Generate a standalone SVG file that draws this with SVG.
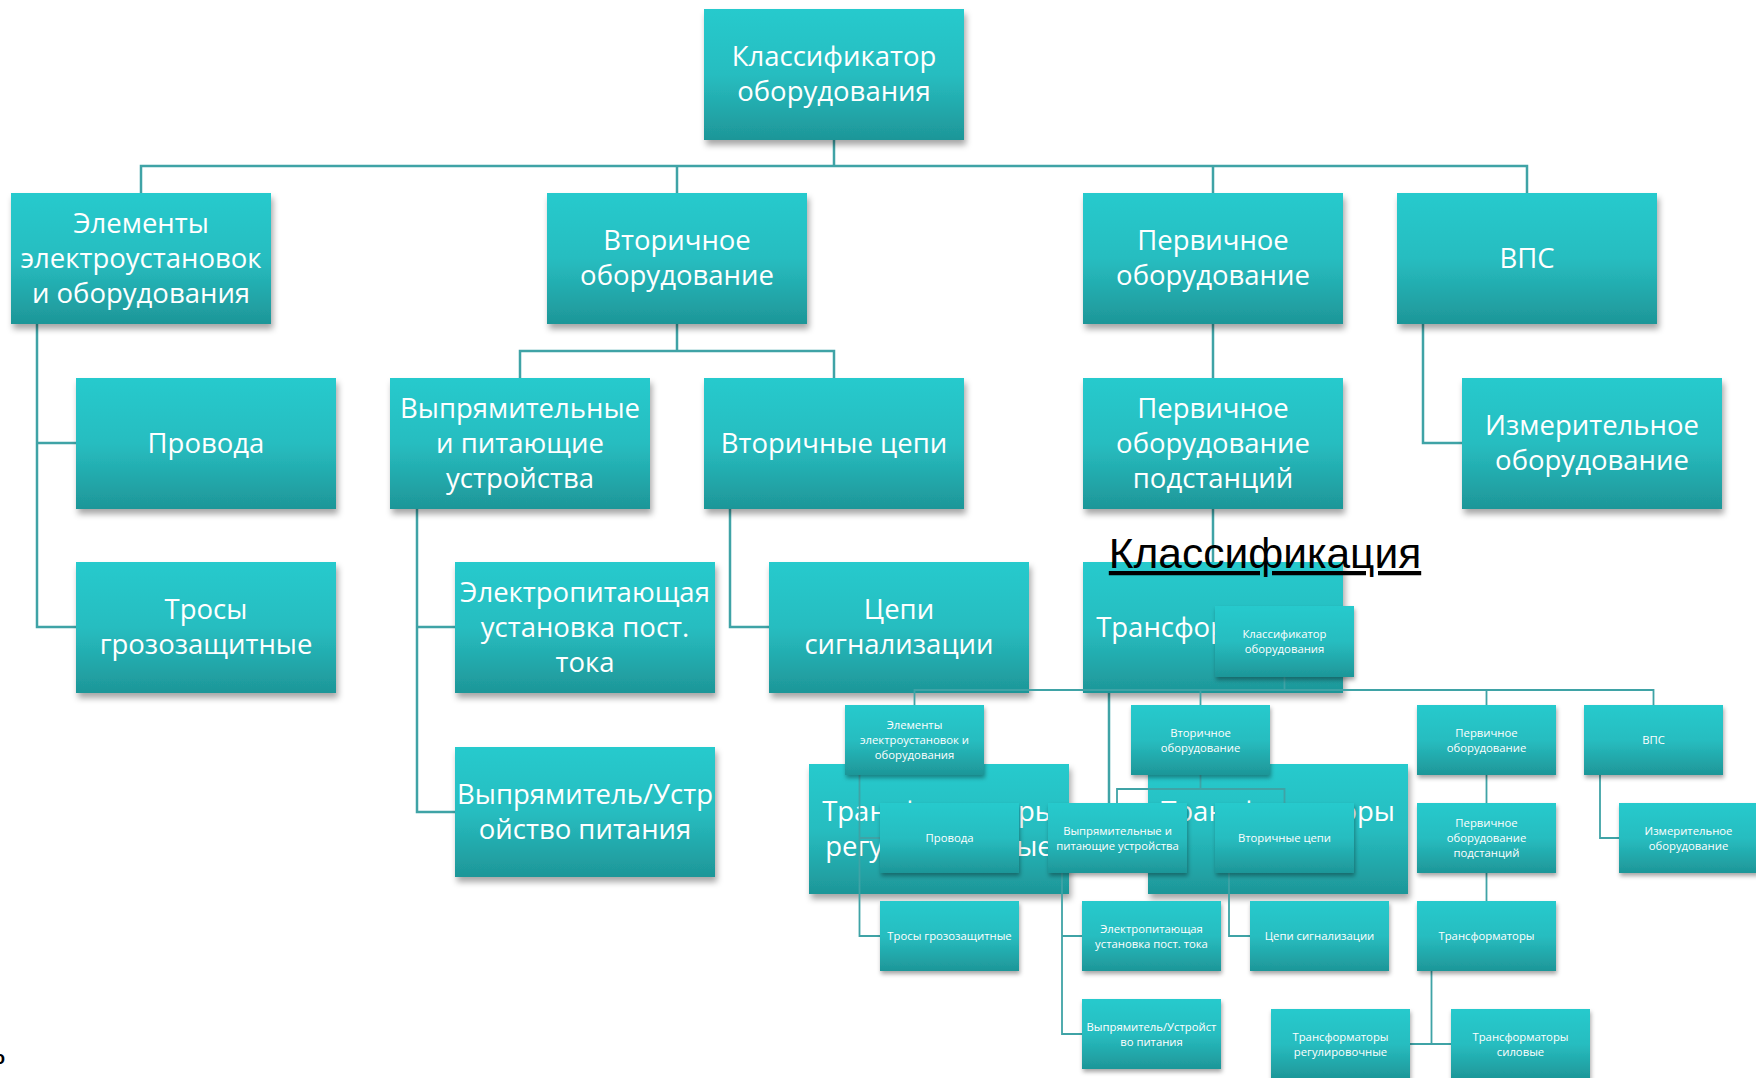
<svg xmlns="http://www.w3.org/2000/svg" width="1756" height="1078" viewBox="0 0 1756 1078">
<style>
.bx{fill:url(#g);filter:url(#sh)}
.sbx{fill:url(#g);filter:url(#ssh)}
.t{fill:#fff;font-family:"Open Sans","Noto Sans",sans-serif;font-size:27.5px;text-anchor:middle}
.s{fill:#fff;font-family:"Open Sans","Noto Sans",sans-serif;font-size:11.3px;text-anchor:middle}
.c{stroke:#3FA3A6;stroke-width:2.5;fill:none}
.cs{stroke:#3FA3A6;stroke-width:1.8;fill:none}
</style>
<defs>
<linearGradient id="g" x1="0" y1="0" x2="0" y2="1">
<stop offset="0" stop-color="#26CACD"/>
<stop offset="0.5" stop-color="#27BDC0"/>
<stop offset="1" stop-color="#1E9698"/>
</linearGradient>
<filter id="sh" x="-10%" y="-10%" width="125%" height="130%">
<feDropShadow dx="2" dy="5" stdDeviation="3" flood-color="#000" flood-opacity="0.35"/>
</filter>
<filter id="ssh" x="-10%" y="-10%" width="125%" height="130%">
<feDropShadow dx="1" dy="3" stdDeviation="2" flood-color="#000" flood-opacity="0.35"/>
</filter>
</defs>
<rect width="1756" height="1078" fill="#fff"/>

<g id="connectors-big">
<path class="c" d="M834 140V166M141 193V166H1527V193M677 166V193M1213 166V193"/>
<path class="c" d="M37 324V627H76M37 443H76"/>
<path class="c" d="M677 324V351M520 378V351H834V378"/>
<path class="c" d="M1213 324V378"/>
<path class="c" d="M1423 324V443H1462"/>
<path class="c" d="M417 509V812H455M417 627H455"/>
<path class="c" d="M730 509V627H769"/>
<path class="c" d="M1213 509V562"/>
<path class="c" d="M1109 693V829M1069 829H1148"/>
</g>

<g id="n-top"><rect class="bx" x="704" y="9" width="260" height="131"/><text class="t" x="834" y="65.5">Классификатор</text><text class="t" x="834" y="100.5">оборудования</text></g>
<g id="n-elem"><rect class="bx" x="11" y="193" width="260" height="131"/><text class="t" x="141" y="232.5">Элементы</text><text class="t" x="141" y="267.5">электроустановок</text><text class="t" x="141" y="302.5">и оборудования</text></g>
<g id="n-vtor"><rect class="bx" x="547" y="193" width="260" height="131"/><text class="t" x="677" y="250">Вторичное</text><text class="t" x="677" y="285">оборудование</text></g>
<g id="n-perv"><rect class="bx" x="1083" y="193" width="260" height="131"/><text class="t" x="1213" y="250">Первичное</text><text class="t" x="1213" y="285">оборудование</text></g>
<g id="n-vps"><rect class="bx" x="1397" y="193" width="260" height="131"/><text class="t" x="1527" y="267.5">ВПС</text></g>
<g id="n-prov"><rect class="bx" x="76" y="378" width="260" height="131"/><text class="t" x="206" y="452.5">Провода</text></g>
<g id="n-vypr"><rect class="bx" x="390" y="378" width="260" height="131"/><text class="t" x="520" y="417.5">Выпрямительные</text><text class="t" x="520" y="452.5">и питающие</text><text class="t" x="520" y="487.5">устройства</text></g>
<g id="n-vtc"><rect class="bx" x="704" y="378" width="260" height="131"/><text class="t" x="834" y="452.5">Вторичные цепи</text></g>
<g id="n-pps"><rect class="bx" x="1083" y="378" width="260" height="131"/><text class="t" x="1213" y="417.5">Первичное</text><text class="t" x="1213" y="452.5">оборудование</text><text class="t" x="1213" y="487.5">подстанций</text></g>
<g id="n-izm"><rect class="bx" x="1462" y="378" width="260" height="131"/><text class="t" x="1592" y="435">Измерительное</text><text class="t" x="1592" y="470">оборудование</text></g>
<g id="n-tros"><rect class="bx" x="76" y="562" width="260" height="131"/><text class="t" x="206" y="619">Тросы</text><text class="t" x="206" y="654">грозозащитные</text></g>
<g id="n-epu"><rect class="bx" x="455" y="562" width="260" height="131"/><text class="t" x="585" y="601.5">Электропитающая</text><text class="t" x="585" y="636.5">установка пост.</text><text class="t" x="585" y="671.5">тока</text></g>
<g id="n-cs"><rect class="bx" x="769" y="562" width="260" height="131"/><text class="t" x="899" y="619">Цепи</text><text class="t" x="899" y="654">сигнализации</text></g>
<g id="n-tr"><rect class="bx" x="1083" y="562" width="260" height="131"/><text class="t" x="1213" y="636.5">Трансформаторы</text></g>
<g id="n-vu"><rect class="bx" x="455" y="747" width="260" height="130"/><text class="t" x="585" y="803.5">Выпрямитель/Устр</text><text class="t" x="585" y="838.5">ойство питания</text></g>
<g id="n-trr"><rect class="bx" x="809" y="764" width="260" height="130"/><text class="t" x="939" y="820.5">Трансформаторы</text><text class="t" x="939" y="855.5">регулировочные</text></g>
<g id="n-trs"><rect class="bx" x="1148" y="764" width="260" height="130"/><text class="t" x="1278" y="820.5">Трансформаторы</text><text class="t" x="1278" y="855.5">силовые</text></g>

<text x="1265" y="568" font-family="Liberation Sans, Arial, sans-serif" font-size="42.5" fill="#000" text-anchor="middle" text-decoration="underline">Классификация</text>

<g id="connectors-small">
<path class="cs" d="M1284.5 677V690M914.5 705V690H1653.5V705M1200.5 690V705M1486.5 690V705"/>
<path class="cs" d="M859.5 775V936H880M859.5 838H880"/>
<path class="cs" d="M1200.5 775V789M1117 803V789H1284.5V803"/>
<path class="cs" d="M1486.5 775V803"/>
<path class="cs" d="M1600 775V838H1619"/>
<path class="cs" d="M1062 873V1034H1082M1062 936H1082"/>
<path class="cs" d="M1229 873V936H1250"/>
<path class="cs" d="M1486.5 873V901"/>
<path class="cs" d="M1431.5 971V1044M1410 1044H1451"/>
</g>

<g id="s-top"><rect class="sbx" x="1215" y="606" width="139" height="71"/><text class="s" x="1284.5" y="638">Классификатор</text><text class="s" x="1284.5" y="653">оборудования</text></g>
<g id="s-elem"><rect class="sbx" x="845" y="705" width="139" height="70"/><text class="s" x="914.5" y="729">Элементы</text><text class="s" x="914.5" y="744">электроустановок и</text><text class="s" x="914.5" y="759">оборудования</text></g>
<g id="s-vtor"><rect class="sbx" x="1131" y="705" width="139" height="70"/><text class="s" x="1200.5" y="736.5">Вторичное</text><text class="s" x="1200.5" y="751.5">оборудование</text></g>
<g id="s-perv"><rect class="sbx" x="1417" y="705" width="139" height="70"/><text class="s" x="1486.5" y="736.5">Первичное</text><text class="s" x="1486.5" y="751.5">оборудование</text></g>
<g id="s-vps"><rect class="sbx" x="1584" y="705" width="139" height="70"/><text class="s" x="1653.5" y="744">ВПС</text></g>
<g id="s-prov"><rect class="sbx" x="880" y="803" width="139" height="70"/><text class="s" x="949.5" y="842">Провода</text></g>
<g id="s-vypr"><rect class="sbx" x="1048" y="803" width="139" height="70"/><text class="s" x="1117.5" y="834.5">Выпрямительные и</text><text class="s" x="1117.5" y="849.5">питающие устройства</text></g>
<g id="s-vtc"><rect class="sbx" x="1215" y="803" width="139" height="70"/><text class="s" x="1284.5" y="842">Вторичные цепи</text></g>
<g id="s-pps"><rect class="sbx" x="1417" y="803" width="139" height="70"/><text class="s" x="1486.5" y="827">Первичное</text><text class="s" x="1486.5" y="842">оборудование</text><text class="s" x="1486.5" y="857">подстанций</text></g>
<g id="s-izm"><rect class="sbx" x="1619" y="803" width="139" height="70"/><text class="s" x="1688.5" y="834.5">Измерительное</text><text class="s" x="1688.5" y="849.5">оборудование</text></g>
<g id="s-tros"><rect class="sbx" x="880" y="901" width="139" height="70"/><text class="s" x="949.5" y="940">Тросы грозозащитные</text></g>
<g id="s-epu"><rect class="sbx" x="1082" y="901" width="139" height="70"/><text class="s" x="1151.5" y="932.5">Электропитающая</text><text class="s" x="1151.5" y="947.5">установка пост. тока</text></g>
<g id="s-cs"><rect class="sbx" x="1250" y="901" width="139" height="70"/><text class="s" x="1319.5" y="940">Цепи сигнализации</text></g>
<g id="s-tr"><rect class="sbx" x="1417" y="901" width="139" height="70"/><text class="s" x="1486.5" y="940">Трансформаторы</text></g>
<g id="s-vu"><rect class="sbx" x="1082" y="999" width="139" height="70"/><text class="s" x="1151.5" y="1030.5">Выпрямитель/Устройст</text><text class="s" x="1151.5" y="1045.5">во питания</text></g>
<g id="s-trr"><rect class="sbx" x="1271" y="1009" width="139" height="70"/><text class="s" x="1340.5" y="1040.5">Трансформаторы</text><text class="s" x="1340.5" y="1055.5">регулировочные</text></g>
<g id="s-trs"><rect class="sbx" x="1451" y="1009" width="139" height="70"/><text class="s" x="1520.5" y="1040.5">Трансформаторы</text><text class="s" x="1520.5" y="1055.5">силовые</text></g>

<text x="-6" y="1064" font-family="Liberation Sans, Arial, sans-serif" font-size="18" font-weight="bold" fill="#000">о</text>
</svg>
